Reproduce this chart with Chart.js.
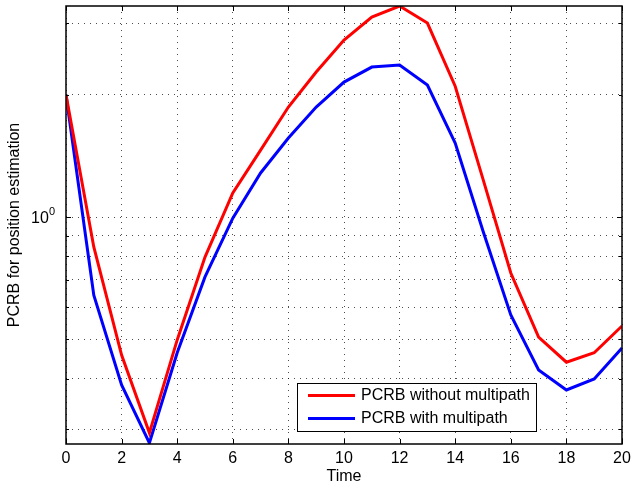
<!DOCTYPE html>
<html>
<head>
<meta charset="utf-8">
<script src="https://cdn.jsdelivr.net/npm/chart.js@4"></script>
<style>
  body { margin: 0; background: #fff; }
  #wrap { width: 633px; height: 486px; }
</style>
</head>
<body>
<div id="wrap"><canvas id="pcrb" width="633" height="486"></canvas></div>
<script>
const timeSteps = [0, 1, 2, 3, 4, 5, 6, 7, 8, 9, 10, 11, 12, 13, 14, 15, 16, 17, 18, 19, 20];
const pcrbNoMultipath = [2.00, 0.844, 0.457, 0.294, 0.498, 0.797, 1.146, 1.462, 1.866, 2.276, 2.729,
    3.11, 3.31, 3.005, 2.10, 1.24, 0.728, 0.506, 0.439, 0.463, 0.539];
const pcrbMultipath = [2.00, 0.642, 0.386, 0.2776, 0.463, 0.712, 0.994, 1.284, 1.565, 1.866, 2.15,
    2.341, 2.367, 2.114, 1.521, 0.924, 0.574, 0.420, 0.375, 0.399, 0.476];
const yGridValues = [0.3, 0.4, 0.5, 0.6, 0.7, 0.8, 0.9, 1, 2, 3];
const yLabelValues = [1];
const xTickValues = [0, 2, 4, 6, 8, 10, 12, 14, 16, 18, 20];

const FONT = "'Liberation Sans', Arial, Helvetica, sans-serif";

// matlab style box, inner ticks, 10^0 label and legend
const boxPlugin = {
  id: "box",
  afterDraw(chart) {
    const ctx = chart.ctx;
    const a = chart.chartArea;
    const xs = chart.scales.x, ys = chart.scales.y;
    ctx.save();
    ctx.strokeStyle = "#000";
    ctx.lineWidth = 1;
    ctx.beginPath();
    xTickValues.forEach(v => {
      const px = Math.round(xs.getPixelForValue(v)) + 0.5;
      ctx.moveTo(px, a.bottom); ctx.lineTo(px, a.bottom - 5);
      ctx.moveTo(px, a.top); ctx.lineTo(px, a.top + 5);
    });
    yGridValues.forEach(v => {
      const py = Math.round(ys.getPixelForValue(v)) + 0.5;
      const len = v === 1 ? 5 : 3;
      ctx.moveTo(a.left, py); ctx.lineTo(a.left + len, py);
      ctx.moveTo(a.right, py); ctx.lineTo(a.right - len, py);
    });
    ctx.stroke();
    ctx.lineWidth = 1.5;
    ctx.strokeRect(a.left, a.top, a.right - a.left, a.bottom - a.top);

    // y labels as 10^n
    ctx.fillStyle = "#000";
    ctx.textBaseline = "alphabetic";
    yLabelValues.forEach(v => {
      const py = ys.getPixelForValue(v);
      const exp = String(Math.round(Math.log10(v)));
      ctx.font = "11px " + FONT;
      const ew = ctx.measureText(exp).width;
      ctx.textAlign = "left";
      ctx.fillText(exp, a.left - 11 - ew, py - 2);
      ctx.font = "16px " + FONT;
      ctx.textAlign = "right";
      ctx.fillText("10", a.left - 11 - ew, py + 6);
    });

    // legend
    const lx = a.right - 325, ly = a.bottom - 61;
    ctx.fillStyle = "#fff";
    ctx.fillRect(lx, ly, 239, 48);
    ctx.lineWidth = 1;
    ctx.strokeRect(lx + 0.5, ly + 0.5, 239, 48);
    ctx.font = "16px " + FONT;
    ctx.textAlign = "left";
    ctx.textBaseline = "middle";
    chart.data.datasets.forEach((ds, i) => {
      const y = ly + 12.5 + i * 23;
      ctx.strokeStyle = ds.borderColor;
      ctx.lineWidth = 3;
      ctx.beginPath();
      ctx.moveTo(lx + 11, y); ctx.lineTo(lx + 58, y);
      ctx.stroke();
      ctx.fillStyle = "#000";
      ctx.fillText(ds.label, lx + 64, y);
    });
    ctx.restore();
  }
};

new Chart(document.getElementById("pcrb").getContext("2d"), {
  type: "line",
  data: {
    labels: timeSteps,
    datasets: [{
      label: "PCRB without multipath",
      data: pcrbNoMultipath,
      borderColor: "#ff0000",
      borderWidth: 3,
      pointRadius: 0,
      tension: 0
    }, {
      label: "PCRB with multipath",
      data: pcrbMultipath,
      borderColor: "#0000ff",
      borderWidth: 3,
      pointRadius: 0,
      tension: 0
    }]
  },
  options: {
    responsive: false,
    animation: false,
    layout: { padding: { left: 0, top: 6, right: 11, bottom: 0 } },
    plugins: {
      legend: { display: false },
      tooltip: { enabled: false }
    },
    scales: {
      x: {
        type: "linear",
        min: 0,
        max: 20,
        afterFit: s => { s.height = 42; s.paddingLeft = 0; s.paddingRight = 0; },
        afterBuildTicks: s => { s.ticks = xTickValues.map(v => ({ value: v })); },
        ticks: { color: "#000", font: { family: FONT, size: 16 }, padding: 5, maxRotation: 0, autoSkip: false },
        grid: { color: "rgba(0,0,0,0.7)", drawTicks: false },
        border: { display: false, dash: [1, 5] },
        title: { display: true, text: "Time", color: "#000", font: { family: FONT, size: 16 }, padding: { top: 0, bottom: 0 } }
      },
      y: {
        type: "logarithmic",
        min: 0.276,
        max: 3.31,
        afterFit: s => { s.width = 66; s.paddingTop = 0; s.paddingBottom = 0; },
        afterBuildTicks: s => { s.ticks = yGridValues.map(v => ({ value: v })); },
        ticks: { display: false },
        grid: { color: "rgba(0,0,0,0.7)", drawTicks: false },
        border: { display: false, dash: [1, 5] },
        title: { display: true, text: "PCRB for position estimation", color: "#000", font: { family: FONT, size: 16 }, padding: { top: 5, bottom: 0 } }
      }
    }
  },
  plugins: [boxPlugin]
});
</script>
</body>
</html>
